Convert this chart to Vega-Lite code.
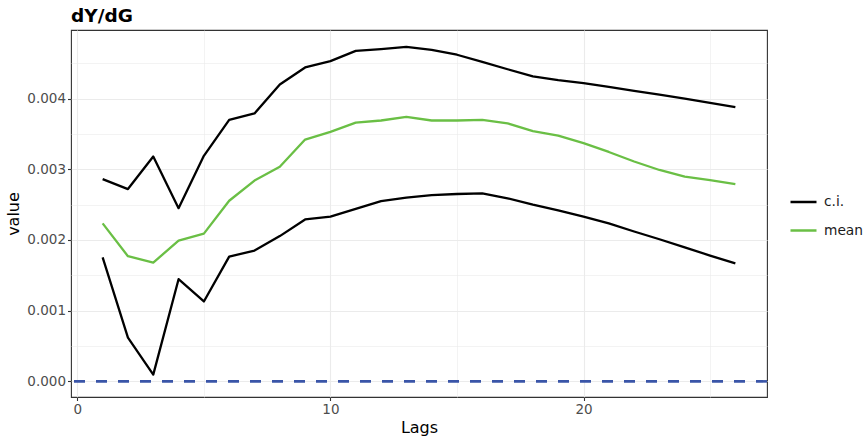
{
  "$schema": "https://vega.github.io/schema/vega-lite/v6.json",
  "width": 696,
  "height": 367,
  "autosize": "none",
  "padding": {"left": 71, "top": 30, "right": 97, "bottom": 41},
  "background": "white",
  "config": {
    "font": "DejaVu Sans",
    "view": {"stroke": "#333333", "strokeWidth": 1.1}
  },
  "title": {
    "text": "dY/dG",
    "anchor": "start",
    "frame": "group",
    "fontSize": 18.5,
    "fontWeight": "bold",
    "color": "black",
    "offset": 5
  },
  "datasets": {
    "series": [
      {"lag": 1, "value": 0.00286, "type": "c.i.", "band": "upper"},
      {"lag": 2, "value": 0.00272, "type": "c.i.", "band": "upper"},
      {"lag": 3, "value": 0.00318, "type": "c.i.", "band": "upper"},
      {"lag": 4, "value": 0.00245, "type": "c.i.", "band": "upper"},
      {"lag": 5, "value": 0.00319, "type": "c.i.", "band": "upper"},
      {"lag": 6, "value": 0.00370, "type": "c.i.", "band": "upper"},
      {"lag": 7, "value": 0.00379, "type": "c.i.", "band": "upper"},
      {"lag": 8, "value": 0.00420, "type": "c.i.", "band": "upper"},
      {"lag": 9, "value": 0.00444, "type": "c.i.", "band": "upper"},
      {"lag": 10, "value": 0.00453, "type": "c.i.", "band": "upper"},
      {"lag": 11, "value": 0.004675, "type": "c.i.", "band": "upper"},
      {"lag": 12, "value": 0.00470, "type": "c.i.", "band": "upper"},
      {"lag": 13, "value": 0.00473, "type": "c.i.", "band": "upper"},
      {"lag": 14, "value": 0.00469, "type": "c.i.", "band": "upper"},
      {"lag": 15, "value": 0.00462, "type": "c.i.", "band": "upper"},
      {"lag": 16, "value": 0.00452, "type": "c.i.", "band": "upper"},
      {"lag": 17, "value": 0.004415, "type": "c.i.", "band": "upper"},
      {"lag": 18, "value": 0.004315, "type": "c.i.", "band": "upper"},
      {"lag": 19, "value": 0.00426, "type": "c.i.", "band": "upper"},
      {"lag": 20, "value": 0.00422, "type": "c.i.", "band": "upper"},
      {"lag": 21, "value": 0.004165, "type": "c.i.", "band": "upper"},
      {"lag": 22, "value": 0.00411, "type": "c.i.", "band": "upper"},
      {"lag": 23, "value": 0.004055, "type": "c.i.", "band": "upper"},
      {"lag": 24, "value": 0.00400, "type": "c.i.", "band": "upper"},
      {"lag": 25, "value": 0.00394, "type": "c.i.", "band": "upper"},
      {"lag": 26, "value": 0.00388, "type": "c.i.", "band": "upper"},
      {"lag": 1, "value": 0.001755, "type": "c.i.", "band": "lower"},
      {"lag": 2, "value": 0.00062, "type": "c.i.", "band": "lower"},
      {"lag": 3, "value": 0.000095, "type": "c.i.", "band": "lower"},
      {"lag": 4, "value": 0.001445, "type": "c.i.", "band": "lower"},
      {"lag": 5, "value": 0.00113, "type": "c.i.", "band": "lower"},
      {"lag": 6, "value": 0.001765, "type": "c.i.", "band": "lower"},
      {"lag": 7, "value": 0.00185, "type": "c.i.", "band": "lower"},
      {"lag": 8, "value": 0.002055, "type": "c.i.", "band": "lower"},
      {"lag": 9, "value": 0.00229, "type": "c.i.", "band": "lower"},
      {"lag": 10, "value": 0.00233, "type": "c.i.", "band": "lower"},
      {"lag": 11, "value": 0.00244, "type": "c.i.", "band": "lower"},
      {"lag": 12, "value": 0.00255, "type": "c.i.", "band": "lower"},
      {"lag": 13, "value": 0.00260, "type": "c.i.", "band": "lower"},
      {"lag": 14, "value": 0.002635, "type": "c.i.", "band": "lower"},
      {"lag": 15, "value": 0.00265, "type": "c.i.", "band": "lower"},
      {"lag": 16, "value": 0.00266, "type": "c.i.", "band": "lower"},
      {"lag": 17, "value": 0.00259, "type": "c.i.", "band": "lower"},
      {"lag": 18, "value": 0.00250, "type": "c.i.", "band": "lower"},
      {"lag": 19, "value": 0.00242, "type": "c.i.", "band": "lower"},
      {"lag": 20, "value": 0.00233, "type": "c.i.", "band": "lower"},
      {"lag": 21, "value": 0.002235, "type": "c.i.", "band": "lower"},
      {"lag": 22, "value": 0.00212, "type": "c.i.", "band": "lower"},
      {"lag": 23, "value": 0.00201, "type": "c.i.", "band": "lower"},
      {"lag": 24, "value": 0.001895, "type": "c.i.", "band": "lower"},
      {"lag": 25, "value": 0.00178, "type": "c.i.", "band": "lower"},
      {"lag": 26, "value": 0.00167, "type": "c.i.", "band": "lower"},
      {"lag": 1, "value": 0.002235, "type": "mean", "band": "mean"},
      {"lag": 2, "value": 0.00177, "type": "mean", "band": "mean"},
      {"lag": 3, "value": 0.00168, "type": "mean", "band": "mean"},
      {"lag": 4, "value": 0.00199, "type": "mean", "band": "mean"},
      {"lag": 5, "value": 0.00209, "type": "mean", "band": "mean"},
      {"lag": 6, "value": 0.002555, "type": "mean", "band": "mean"},
      {"lag": 7, "value": 0.00284, "type": "mean", "band": "mean"},
      {"lag": 8, "value": 0.003035, "type": "mean", "band": "mean"},
      {"lag": 9, "value": 0.00342, "type": "mean", "band": "mean"},
      {"lag": 10, "value": 0.00353, "type": "mean", "band": "mean"},
      {"lag": 11, "value": 0.00366, "type": "mean", "band": "mean"},
      {"lag": 12, "value": 0.00369, "type": "mean", "band": "mean"},
      {"lag": 13, "value": 0.00374, "type": "mean", "band": "mean"},
      {"lag": 14, "value": 0.00369, "type": "mean", "band": "mean"},
      {"lag": 15, "value": 0.00369, "type": "mean", "band": "mean"},
      {"lag": 16, "value": 0.00370, "type": "mean", "band": "mean"},
      {"lag": 17, "value": 0.00365, "type": "mean", "band": "mean"},
      {"lag": 18, "value": 0.00354, "type": "mean", "band": "mean"},
      {"lag": 19, "value": 0.003475, "type": "mean", "band": "mean"},
      {"lag": 20, "value": 0.00337, "type": "mean", "band": "mean"},
      {"lag": 21, "value": 0.003245, "type": "mean", "band": "mean"},
      {"lag": 22, "value": 0.00311, "type": "mean", "band": "mean"},
      {"lag": 23, "value": 0.00299, "type": "mean", "band": "mean"},
      {"lag": 24, "value": 0.002895, "type": "mean", "band": "mean"},
      {"lag": 25, "value": 0.002845, "type": "mean", "band": "mean"},
      {"lag": 26, "value": 0.00279, "type": "mean", "band": "mean"}
    ],
    "ref": [{"yintercept": 0}]
  },
  "layer": [
    {
      "data": {"name": "series"},
      "mark": {"type": "line", "strokeWidth": 2.3, "strokeJoin": "round", "strokeCap": "butt"},
      "encoding": {
        "x": {
          "field": "lag",
          "type": "quantitative",
          "title": "Lags",
          "scale": {"domain": [-0.25, 27.25], "nice": false, "zero": false},
          "axis": {
            "values": [0, 5, 10, 15, 20, 25],
            "labelExpr": "datum.value % 10 === 0 ? datum.label : ''",
            "domain": false,
            "grid": true,
            "gridColor": "#ebebeb",
            "gridWidth": {"condition": {"test": "datum.value % 10 === 0", "value": 1.1}, "value": 0.6},
            "tickOpacity": {"condition": {"test": "datum.value % 10 === 0", "value": 1}, "value": 0},
            "tickColor": "#333333",
            "tickSize": 3.5,
            "tickWidth": 1.1,
            "labelFontSize": 13.5,
            "labelColor": "#4d4d4d",
            "labelPadding": 2,
            "titleFontSize": 16,
            "titleFontWeight": "normal",
            "titleColor": "black",
            "titlePadding": 3
          }
        },
        "y": {
          "field": "value",
          "type": "quantitative",
          "title": "value",
          "scale": {"domain": [-0.000221, 0.00497], "nice": false, "zero": false},
          "axis": {
            "values": [0, 0.0005, 0.001, 0.0015, 0.002, 0.0025, 0.003, 0.0035, 0.004, 0.0045],
            "format": ".3f",
            "labelExpr": "round(datum.value * 2000) % 2 === 0 ? datum.label : ''",
            "domain": false,
            "grid": true,
            "gridColor": "#ebebeb",
            "gridWidth": {"condition": {"test": "round(datum.value * 2000) % 2 === 0", "value": 1.1}, "value": 0.6},
            "tickOpacity": {"condition": {"test": "round(datum.value * 2000) % 2 === 0", "value": 1}, "value": 0},
            "tickColor": "#333333",
            "tickSize": 3.5,
            "tickWidth": 1.1,
            "labelFontSize": 13.5,
            "labelColor": "#4d4d4d",
            "labelPadding": 2,
            "titleFontSize": 16,
            "titleFontWeight": "normal",
            "titleColor": "black",
            "titlePadding": 5
          }
        },
        "color": {
          "field": "type",
          "type": "nominal",
          "scale": {"domain": ["c.i.", "mean"], "range": ["#000000", "#6abf45"]},
          "legend": {
            "title": null,
            "orient": "none",
            "legendX": 718,
            "legendY": 157.5,
            "symbolType": "stroke",
            "symbolSize": 676,
            "symbolStrokeWidth": 2.5,
            "labelFontSize": 13.75,
            "labelColor": "#1a1a1a",
            "labelOffset": 6,
            "rowPadding": 6.5,
            "padding": 0
          }
        },
        "detail": {"field": "band"}
      }
    },
    {
      "data": {"name": "ref"},
      "mark": {"type": "rule", "color": "#3a55a8", "strokeWidth": 2.6, "strokeDash": [11, 11]},
      "encoding": {
        "y": {"field": "yintercept", "type": "quantitative"}
      }
    }
  ]
}
